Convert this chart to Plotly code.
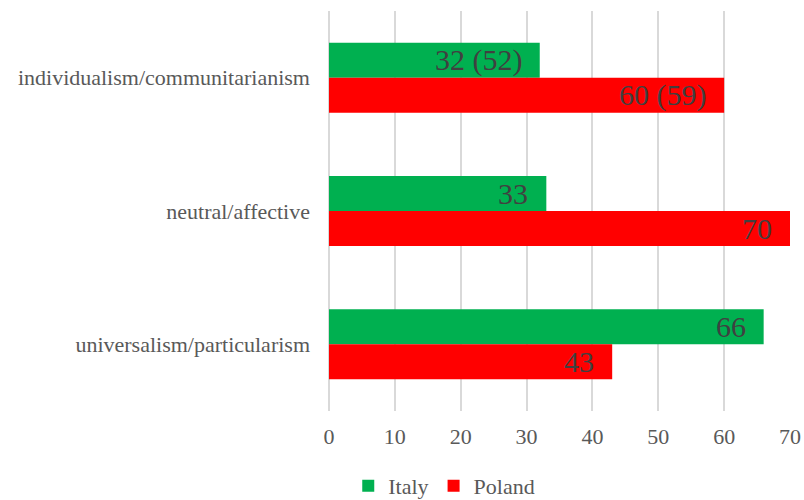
import plotly.graph_objects as go

# Dimensions (top to bottom) and scores per country
dimensions = ["individualism/communitarianism", "neutral/affective", "universalism/particularism"]
italy = [32, 33, 66]
poland = [60, 70, 43]
# Earlier-survey scores shown in parentheses next to the current value
italy_prev = [52, None, None]
poland_prev = [59, None, None]
x_ticks = [0, 10, 20, 30, 40, 50, 60, 70]

GREEN = "#00B050"
RED = "#FF0000"
SERIF = "Liberation Serif, Times New Roman, serif"


def label(v, prev):
    return f"{v} ({prev})" if prev is not None else f"{v}"


fig = go.Figure()
fig.add_trace(go.Bar(name="Italy", y=dimensions, x=italy, orientation="h",
                     marker=dict(color=GREEN, line=dict(width=0)), hoverinfo="skip"))
fig.add_trace(go.Bar(name="Poland", y=dimensions, x=poland, orientation="h",
                     marker=dict(color=RED, line=dict(width=0)), hoverinfo="skip"))

# Value labels just inside the end of each bar
for vals, prevs, shift in ((italy, italy_prev, 17.5), (poland, poland_prev, -17.5)):
    for cat, v, p in zip(dimensions, vals, prevs):
        fig.add_annotation(x=v, y=cat, xref="x", yref="y", text=label(v, p),
                           showarrow=False, xanchor="right", yanchor="middle",
                           xshift=-16, yshift=shift,
                           font=dict(family=SERIF, size=30, color="#404040"))

fig.update_layout(
    width=804, height=500,
    margin=dict(l=329, r=14, t=11, b=89, autoexpand=False),
    paper_bgcolor="white", plot_bgcolor="white",
    barmode="group", bargap=0.475, bargroupgap=0,
    font=dict(family=SERIF, color="#595959", size=22),
    showlegend=True,
    legend=dict(orientation="h", x=0.25, xanchor="center", y=-0.1875, yanchor="middle",
                font=dict(family=SERIF, size=22, color="#595959"),
                itemwidth=30, traceorder="normal"),
    xaxis=dict(range=[0, 70], tickvals=x_ticks, showgrid=True, gridcolor="#D9D9D9",
               gridwidth=1.5, zeroline=True, zerolinecolor="#D9D9D9", zerolinewidth=1.5,
               showline=False, ticks="", ticklabelstandoff=10,
               tickfont=dict(family=SERIF, size=22, color="#595959"),
               automargin=False, fixedrange=True),
    yaxis=dict(autorange="reversed", showgrid=False, zeroline=False, showline=False,
               ticks="", ticklabelstandoff=18, automargin=False,
               tickfont=dict(family=SERIF, size=22, color="#595959"), fixedrange=True),
)

fig.write_html("out.html")
